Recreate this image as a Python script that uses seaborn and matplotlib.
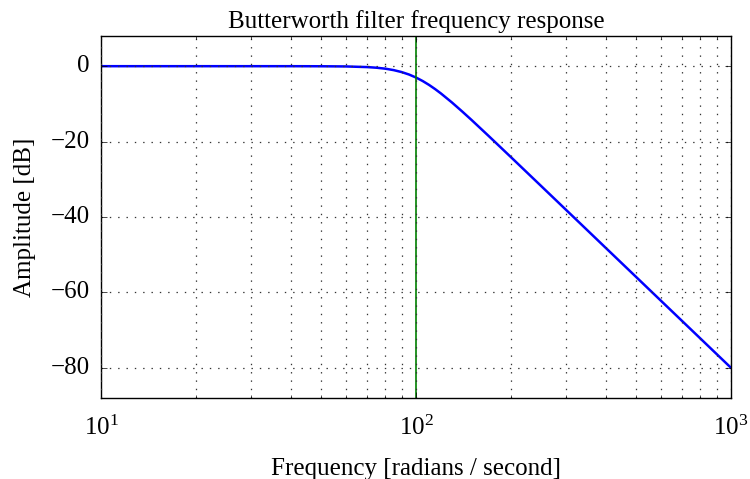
import matplotlib
matplotlib.use("Agg")
import matplotlib.pyplot as plt
import seaborn as sns
import pandas as pd

# Values
frequency = [10, 20, 30, 40, 50, 60, 70, 75, 80, 85, 90, 95, 100, 105, 110, 115,
             120, 130, 140, 150, 170, 200, 250, 300, 400, 500, 700, 1000]
amplitude = [0.0, 0.0, 0.0, 0.0, -0.02, -0.07, -0.24, -0.41, -0.67, -1.05, -1.56,
             -2.21, -3.01, -3.94, -4.97, -6.08, -7.24, -9.62, -11.98, -14.25,
             -18.50, -24.10, -31.84, -38.17, -48.17, -55.92, -67.61, -80.00]
cutoff = 100
title = "Butterworth filter frequency response"
xlabel = "Frequency [radians / second]"
ylabel = "Amplitude [dB]"
yticks = [0, -20, -40, -60, -80]

plt.style.use("classic")
plt.rcParams["font.family"] = ["Liberation Serif", "DejaVu Serif"]
plt.rcParams["mathtext.fontset"] = "stix"

df = pd.DataFrame({"w": frequency, "db": amplitude})

fig = plt.figure(figsize=(7.5, 4.79), dpi=100, facecolor="white")
ax = fig.add_axes([0.1347, 0.1691, 0.84, 0.7557])
sns.lineplot(data=df, x="w", y="db", ax=ax, color="blue", linewidth=1.8)
ax.set_xscale("log")
ax.set_xlim(10, 1000)
ax.set_ylim(-88, 8)
ax.set_yticks(yticks)
ax.grid(which="both", axis="both", color="#333333", linestyle=(0, (1, 5)), linewidth=0.9)
ax.axvline(cutoff, color="green", linewidth=1.2)
ax.set_title(title, fontsize=18, pad=6)
ax.set_xlabel(xlabel, fontsize=18, labelpad=13)
ax.set_ylabel(ylabel, fontsize=18, labelpad=11)
ax.tick_params(labelsize=18)
ax.tick_params(axis="y", pad=8)
ax.tick_params(axis="x", which="major", pad=13, labelsize=18)
fig.savefig("out.png", dpi=100, facecolor="white")
